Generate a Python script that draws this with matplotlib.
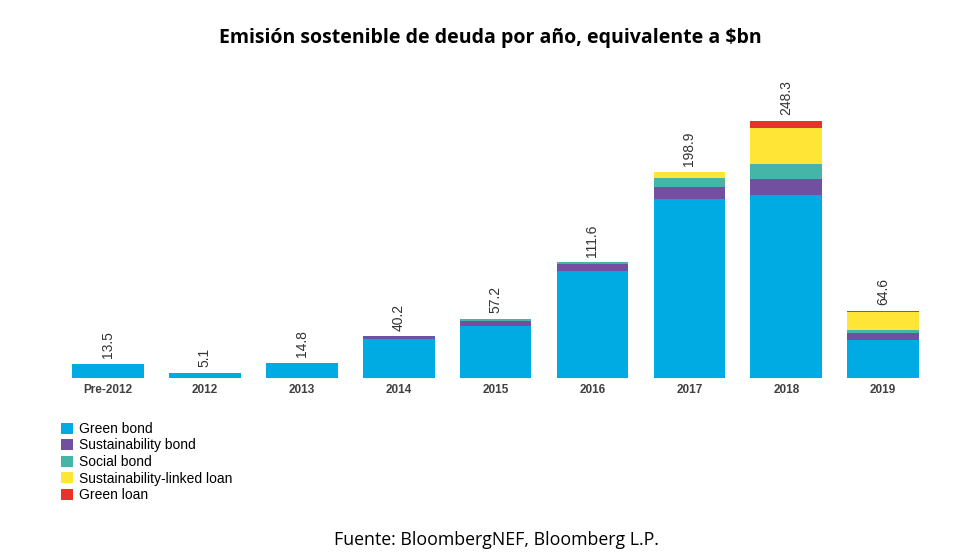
import matplotlib
matplotlib.use('Agg')
import matplotlib.pyplot as plt
import numpy as np

years = ['Pre-2012', '2012', '2013', '2014', '2015', '2016', '2017', '2018', '2019']
totals = [13.5, 5.1, 14.8, 40.2, 57.2, 111.6, 198.9, 248.3, 64.6]

# segment values (bottom to top)
green_bond = [13.5, 5.1, 14.8, 37.5, 50.6, 103.0, 173.3, 176.5, 36.4]
sustainability_bond = [0, 0, 0, 2.7, 4.2, 7.4, 11.2, 15.7, 7.1]
social_bond = [0, 0, 0, 0, 2.4, 1.2, 8.6, 14.2, 3.3]
sl_loan = [0, 0, 0, 0, 0, 0, 5.8, 35.1, 16.7]
green_loan = [0, 0, 0, 0, 0, 0, 0, 6.8, 1.1]

series = [
    ('Green bond', green_bond, '#00AAE3'),
    ('Sustainability bond', sustainability_bond, '#7250A0'),
    ('Social bond', social_bond, '#45B5A9'),
    ('Sustainability-linked loan', sl_loan, '#FFE535'),
    ('Green loan', green_loan, '#E8322A'),
]

fig = plt.figure(figsize=(9.8, 5.58), dpi=100)
ax = fig.add_axes([0.0607, 0.3226, 0.89, 0.501])

x = np.arange(len(years))
bottom = np.zeros(len(years))
for name, vals, col in series:
    ax.bar(x, vals, width=0.74, bottom=bottom, color=col, label=name)
    bottom += np.array(vals)

for xi, t in zip(x, totals):
    ax.text(xi, t + 5.5, f'{t:.1f}', rotation=90, ha='center', va='bottom',
            fontsize=10, family='Liberation Sans', color='#333333')

ax.set_xlim(-0.5, 8.5)
ax.set_ylim(0, 270)
ax.set_xticks(x)
ax.set_xticklabels(years, fontsize=8.5, family='Liberation Sans', color='#404040',
                   fontweight='bold')
ax.tick_params(axis='x', length=0, pad=4)
ax.set_yticks([])
for s in ax.spines.values():
    s.set_visible(False)

fig.legend(loc='upper left', bbox_to_anchor=(0.062, 0.244), frameon=False,
           prop={'family': 'Liberation Sans', 'size': 10},
           handlelength=0.85, handleheight=0.85, handletextpad=0.45,
           labelspacing=0.19, borderpad=0, borderaxespad=0)

fig.text(0.5, 0.932, 'Emisión sostenible de deuda por año, equivalente a $bn',
         ha='center', va='center', fontsize=14, fontweight='bold', family='Open Sans')
fig.text(0.507, 0.032, 'Fuente: BloombergNEF, Bloomberg L.P.',
         ha='center', va='center', fontsize=12.8, family='Open Sans')

fig.savefig('out.png', dpi=100)
